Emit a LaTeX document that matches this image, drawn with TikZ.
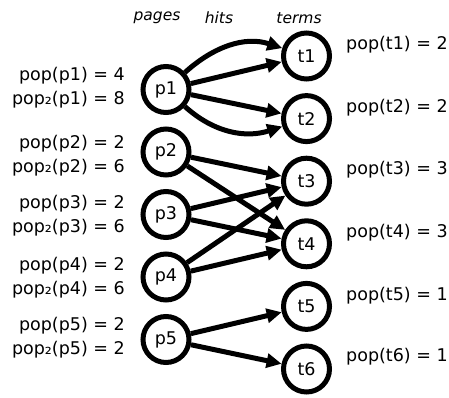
\documentclass[tikz,border=0pt]{standalone}
\usepackage{fontspec}
\setmainfont{DejaVu Sans}
\usepackage{tikz}
\usetikzlibrary{arrows.meta}
\tikzset{
  vert/.style = {circle, draw=black, line width=5pt, minimum size=46pt, inner sep=0pt,
                 font=\fontsize{17.5}{21}\selectfont},
  poplbl/.style = {inner sep=0pt, align=right, anchor=east, font=\fontsize{17.5}{24}\selectfont},
  tpoplbl/.style = {inner sep=0pt, anchor=west, font=\fontsize{17.5}{21}\selectfont},
  hdr/.style = {inner sep=0pt, font=\fontsize{15.5}{18}\selectfont\itshape},
  hit/.style = {line width=5pt, -{Triangle[length=15pt, width=14pt]}},
}

\begin{document}
\begin{tikzpicture}[x=1pt, y=-1pt]
  \useasboundingbox (0,0) rectangle (449,398);
  % column titles
  \node [hdr] (hpages) at (157,18) {pages};
  \node [hdr] (hhits) at (219,18) {hits};
  \node [hdr] (hterms) at (299,18) {terms};
  % pages
  \node [vert] (p1) at (166,89.5) {p1};
  \node [vert] (p2) at (166,152) {p2};
  \node [vert] (p3) at (166,214.5) {p3};
  \node [vert] (p4) at (166,277) {p4};
  \node [vert] (p5) at (166,339.5) {p5};
  % terms
  \node [vert] (t1) at (306.5,56) {t1};
  \node [vert] (t2) at (306.5,118.6) {t2};
  \node [vert] (t3) at (306.5,181.2) {t3};
  \node [vert] (t4) at (306.5,243.8) {t4};
  \node [vert] (t5) at (306.5,306.4) {t5};
  \node [vert] (t6) at (306.5,369) {t6};
  % page popularity
  \node [poplbl] (lp1) at (125,88) {pop(p1) = 4\\pop₂(p1) = 8};
  \node [poplbl] (lp2) at (125,155.5) {pop(p2) = 2\\pop₂(p2) = 6};
  \node [poplbl] (lp3) at (125,216) {pop(p3) = 2\\pop₂(p3) = 6};
  \node [poplbl] (lp4) at (125,277.5) {pop(p4) = 2\\pop₂(p4) = 6};
  \node [poplbl] (lp5) at (125,337.5) {pop(p5) = 2\\pop₂(p5) = 2};
  % term popularity
  \node [tpoplbl] (lt1) at (346,45) {pop(t1) = 2};
  \node [tpoplbl] (lt2) at (346,108) {pop(t2) = 2};
  \node [tpoplbl] (lt3) at (346,170) {pop(t3) = 3};
  \node [tpoplbl] (lt4) at (346,233) {pop(t4) = 3};
  \node [tpoplbl] (lt5) at (346,296) {pop(t5) = 1};
  \node [tpoplbl] (lt6) at (346,357) {pop(t6) = 1};
  % hits
  \draw [hit] (p1) to[out=42, in=162] (t1);
  \draw [hit] (p1) -- (t1);
  \draw [hit] (p1) -- (t2);
  \draw [hit] (p1) to[out=-42, in=-162] (t2);
  \draw [hit] (p2) -- (t3);
  \draw [hit] (p2) -- (t4);
  \draw [hit] (p3) -- (t3);
  \draw [hit] (p3) -- (t4);
  \draw [hit] (p4) -- (t3);
  \draw [hit] (p4) -- (t4);
  \draw [hit] (p5) -- (t5);
  \draw [hit] (p5) -- (t6);
\end{tikzpicture}
\end{document}
